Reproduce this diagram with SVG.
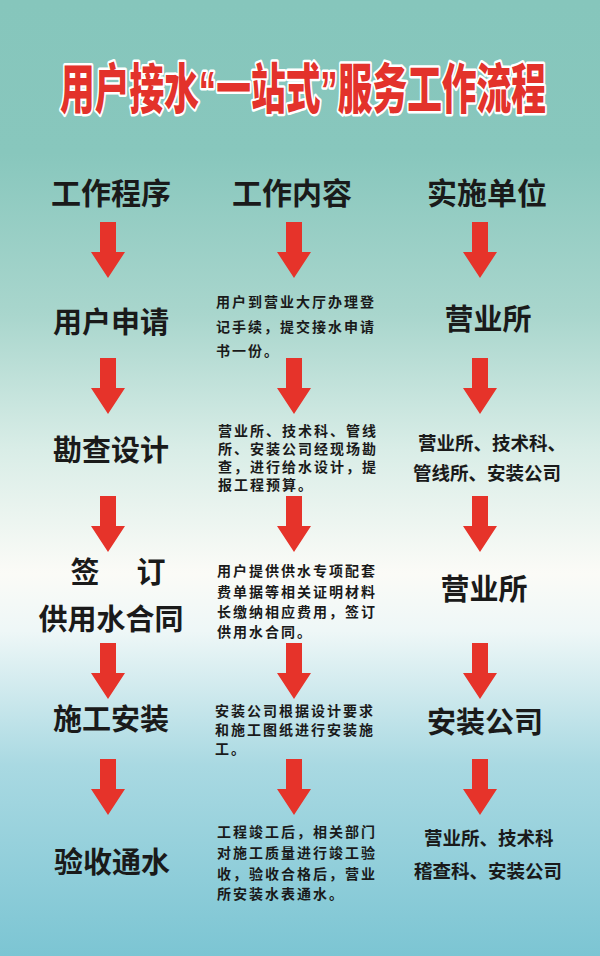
<svg xmlns="http://www.w3.org/2000/svg" width="600" height="956" viewBox="0 0 600 956">
<defs>
<linearGradient id="bg" x1="0" y1="0" x2="0" y2="1">
<stop offset="0" stop-color="#86c6bc"/>
<stop offset="0.16" stop-color="#88c7bd"/>
<stop offset="0.33" stop-color="#a9d6cd"/>
<stop offset="0.47" stop-color="#d9ede7"/>
<stop offset="0.6" stop-color="#fbfbf7"/>
<stop offset="0.66" stop-color="#eef7f7"/>
<stop offset="0.8" stop-color="#a9d9e2"/>
<stop offset="1" stop-color="#7cc5d3"/>
</linearGradient>
<path id="arrow" d="M-8,0 H8 V30 H17 L0,56 L-17,30 H-8 Z"/>
</defs>
<style>
.title{font-family:"Liberation Sans","Noto Sans CJK SC",sans-serif;font-weight:900;font-size:54px;fill:#e3322b;stroke:#ffffff;stroke-width:5px;paint-order:stroke;stroke-linejoin:round}
.hd{font-family:"Noto Sans CJK SC",sans-serif;font-weight:700;font-size:30px;fill:#1a1a1a;text-anchor:middle}
.lb{font-family:"Noto Sans CJK SC",sans-serif;font-weight:700;font-size:29px;fill:#1a1a1a;text-anchor:middle}
.sm{font-family:"Noto Sans CJK SC",sans-serif;font-weight:700;font-size:18.5px;fill:#1a1a1a}
.md{font-family:"Noto Sans CJK SC",sans-serif;font-weight:700;font-size:14px;letter-spacing:2px;fill:#1a1a1a}
.arr{fill:#e6332a}
</style>
<rect x="0" y="0" width="600" height="956" fill="url(#bg)"/>
<g id="title">
<text class="title" x="303" y="109" text-anchor="middle" textLength="486" lengthAdjust="spacingAndGlyphs">用户接水“一站式”服务工作流程</text>
</g>
<g id="headers">
<text class="hd" x="111" y="204">工作程序</text>
<text class="hd" x="292" y="204">工作内容</text>
<text class="hd" x="487" y="204">实施单位</text>
</g>
<g id="step1">
<text class="lb" x="111" y="333">用户申请</text>
<text class="md" x="216" y="307">用户到营业大厅办理登</text>
<text class="md" x="216" y="332">记手续，提交接水申请</text>
<text class="md" x="216" y="356">书一份。</text>
<text class="lb" x="488" y="330">营业所</text>
</g>
<g id="step2">
<text class="lb" x="111" y="461">勘查设计</text>
<text class="md" x="218" y="436">营业所、技术科、管线</text>
<text class="md" x="218" y="454">所、安装公司经现场勘</text>
<text class="md" x="218" y="472">查，进行给水设计，提</text>
<text class="md" x="218" y="490">报工程预算。</text>
<text class="sm" x="418" y="450">营业所、技术科、</text>
<text class="sm" x="413" y="480">管线所、安装公司</text>
</g>
<g id="step3">
<text class="lb" x="85" y="583">签</text>
<text class="lb" x="151" y="583">订</text>
<text class="lb" x="111" y="630">供用水合同</text>
<text class="md" x="217" y="576">用户提供供水专项配套</text>
<text class="md" x="217" y="597">费单据等相关证明材料</text>
<text class="md" x="217" y="617">长缴纳相应费用，签订</text>
<text class="md" x="217" y="637">供用水合同。</text>
<text class="lb" x="484" y="600">营业所</text>
</g>
<g id="step4">
<text class="lb" x="111" y="730">施工安装</text>
<text class="md" x="215" y="716">安装公司根据设计要求</text>
<text class="md" x="215" y="735">和施工图纸进行安装施</text>
<text class="md" x="215" y="754">工。</text>
<text class="lb" x="485" y="733">安装公司</text>
</g>
<g id="step5">
<text class="lb" x="112" y="873">验收通水</text>
<text class="md" x="217" y="837">工程竣工后，相关部门</text>
<text class="md" x="217" y="858">对施工质量进行竣工验</text>
<text class="md" x="217" y="879">收，验收合格后，营业</text>
<text class="md" x="217" y="899">所安装水表通水。</text>
<text class="sm" x="424" y="845">营业所、技术科</text>
<text class="sm" x="414" y="878">稽查科、安装公司</text>
</g>
<g id="connectors" class="arr">
<use href="#arrow" x="108" y="222"/>
<use href="#arrow" x="294" y="222"/>
<use href="#arrow" x="480" y="222"/>
<use href="#arrow" x="108" y="358"/>
<use href="#arrow" x="294" y="358"/>
<use href="#arrow" x="480" y="358"/>
<use href="#arrow" x="108" y="496"/>
<use href="#arrow" x="294" y="496"/>
<use href="#arrow" x="480" y="496"/>
<use href="#arrow" x="108" y="643"/>
<use href="#arrow" x="294" y="643"/>
<use href="#arrow" x="480" y="643"/>
<use href="#arrow" x="108" y="759"/>
<use href="#arrow" x="294" y="759"/>
<use href="#arrow" x="480" y="759"/>
</g>
</svg>
